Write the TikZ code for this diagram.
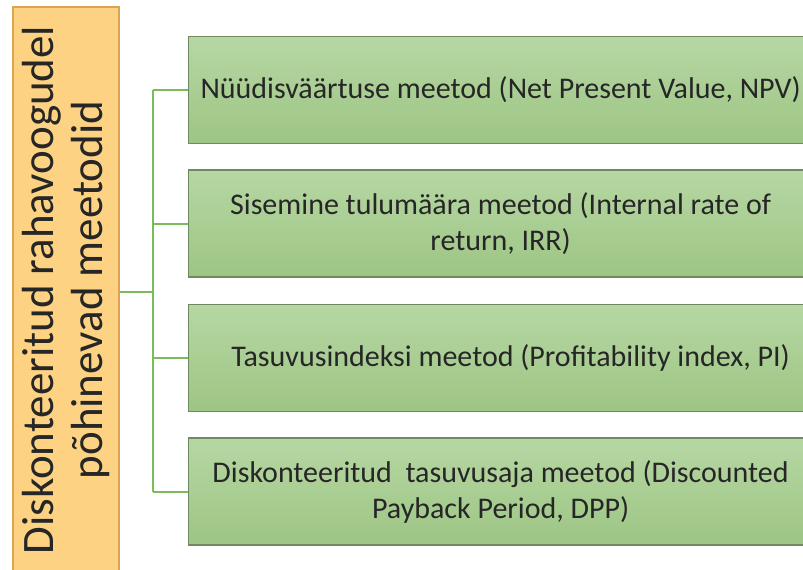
\documentclass[tikz,border=0pt]{standalone}
\usepackage{fontspec}
\setmainfont{Carlito}
\definecolor{orangefill}{HTML}{FDD383}
\definecolor{orangeedge}{HTML}{D9A552}
\definecolor{greentop}{HTML}{B6D7A3}
\definecolor{greenbot}{HTML}{9DC584}
\definecolor{greenedge}{HTML}{6F8A60}
\definecolor{conncol}{HTML}{7DBB5A}
\begin{document}
\begin{tikzpicture}[x=1pt,y=-1pt,
  mainbox/.style={draw=orangeedge, line width=1.2pt, fill=orangefill, rotate=90,
    minimum width=566pt, minimum height=106pt, inner sep=0pt, align=center,
    font=\fontsize{45}{49}\selectfont, text=black!85},
  methodbox/.style={draw=greenedge, line width=1.2pt, top color=greentop, bottom color=greenbot,
    minimum width=624pt, minimum height=107pt, anchor=west, inner sep=0pt, align=center,
    font=\fontsize{30}{36}\selectfont, text=black!85},
  conn/.style={draw=conncol, line width=2pt}]
\useasboundingbox (0,0) rectangle (803,570);
\fill[white] (0,0) rectangle (803,570);
\clip (0,0) rectangle (803,570);
\node[mainbox] (m) at (66,290) {Diskonteeritud rahavoogudel\\põhinevad meetodid};
\node[methodbox] (b1) at (188,90) {Nüüdisväärtuse meetod (Net Present Value, NPV)};
\node[methodbox] (b2) at (188,223.5) {Sisemine tulumäära meetod (Internal rate of\\return, IRR)};
\node[methodbox] (b3) at (188,358) {\hspace*{20pt}Tasuvusindeksi meetod (Profitability index, PI)};
\node[methodbox] (b4) at (188,491.5) {Diskonteeritud\ \ tasuvusaja meetod (Discounted\\Payback Period, DPP)};
\coordinate (t) at (153,292);
\draw[conn] (m.south |- t) -- (t);
\draw[conn] (t |- b1.west) -- (t |- b4.west);
\foreach \b in {b1,b2,b3,b4} \draw[conn] (t |- \b.west) -- (\b.west);
\end{tikzpicture}
\end{document}
